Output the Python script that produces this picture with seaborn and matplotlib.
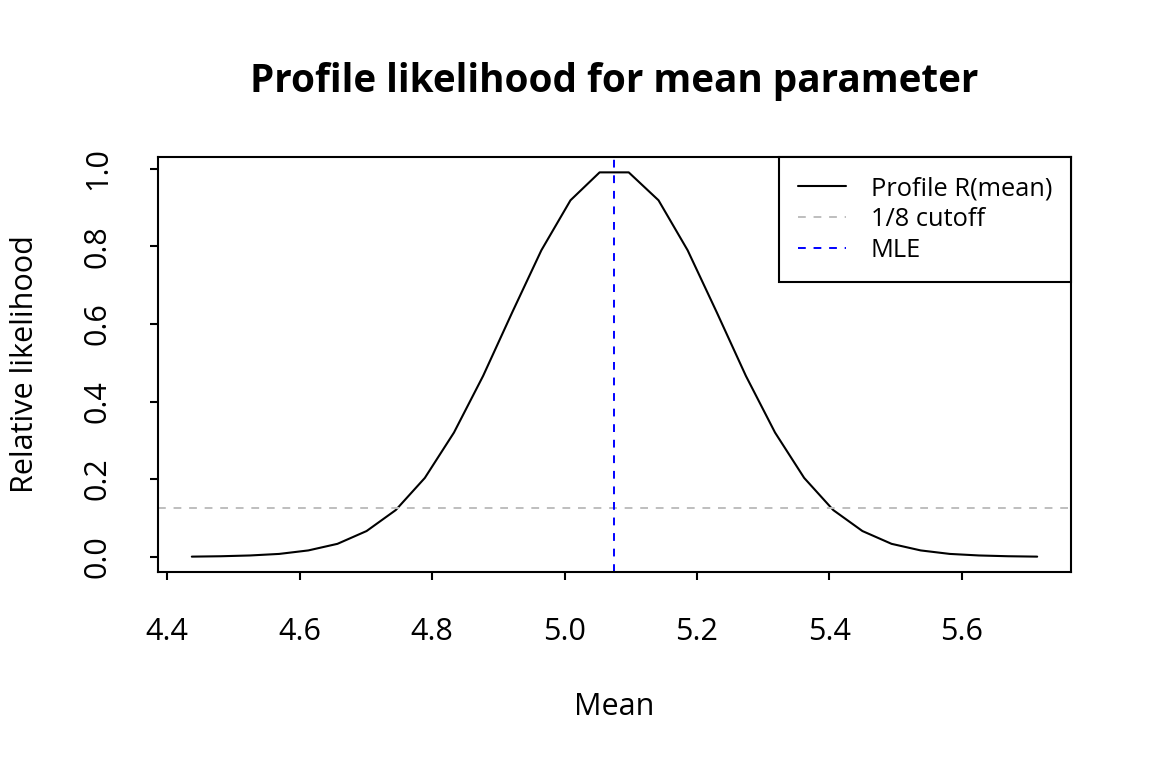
import numpy as np
import pandas as pd
import matplotlib
matplotlib.use("Agg")
import matplotlib.pyplot as plt
import seaborn as sns

# profile relative likelihood
mean_grid = [4.437, 4.481, 4.525, 4.569, 4.613, 4.657, 4.701, 4.745, 4.789, 4.833,
             4.877, 4.921, 4.965, 5.009, 5.053, 5.097, 5.142, 5.186, 5.230, 5.274,
             5.318, 5.362, 5.406, 5.450, 5.494, 5.538, 5.582, 5.626, 5.670, 5.714]
rel_lik = [0.000, 0.001, 0.003, 0.007, 0.016, 0.033, 0.066, 0.120, 0.203, 0.320,
           0.466, 0.630, 0.790, 0.919, 0.991, 0.991, 0.919, 0.790, 0.630, 0.466,
           0.320, 0.203, 0.120, 0.066, 0.033, 0.016, 0.007, 0.003, 0.001, 0.000]
cutoff = 1 / 8
mle = 5.075

x_ticks = [4.4, 4.6, 4.8, 5.0, 5.2, 5.4, 5.6]
y_ticks = [0.0, 0.2, 0.4, 0.6, 0.8, 1.0]

df = pd.DataFrame({"mean": mean_grid, "R": rel_lik})

sns.set_theme(style="white")
plt.rcParams["font.family"] = ["Open Sans", "DejaVu Sans"]
plt.rcParams["text.color"] = "black"
plt.rcParams["axes.labelcolor"] = "black"
plt.rcParams["xtick.color"] = "black"
plt.rcParams["ytick.color"] = "black"

W, H = 1152, 768
fig = plt.figure(figsize=(W / 100, H / 100), dpi=100)
ax = fig.add_axes([158 / W, 1 - 572 / H, (1071 - 158) / W, (572 - 157) / H])

sns.lineplot(data=df, x="mean", y="R", ax=ax, color="black", linewidth=1.5,
             label="Profile R(mean)")
ax.axhline(cutoff, color="#BEBEBE", linewidth=1.4, dashes=(4, 4), label="1/8 cutoff")
ax.axvline(mle, color="#0000FF", linewidth=1.4, dashes=(4, 4), label="MLE")

# R-style 4% padding
xr = max(mean_grid) - min(mean_grid)
ax.set_xlim(min(mean_grid) - 0.04 * xr, max(mean_grid) + 0.04 * xr)
yr = max(rel_lik) - min(rel_lik)
ax.set_ylim(min(rel_lik) - 0.04 * yr, max(rel_lik) + 0.04 * yr)

ax.set_xticks(x_ticks)
ax.set_xticklabels([f"{t:.1f}" for t in x_ticks])
ax.set_yticks(y_ticks)
ax.set_yticklabels([f"{t:.1f}" for t in y_ticks], rotation=90, va="center")
ax.tick_params(axis="both", which="major", direction="out", length=6, width=1.5,
               color="black", labelcolor="black", labelsize=22, pad=26.5,
               bottom=True, left=True)
for s in ax.spines.values():
    s.set_color("black")
    s.set_linewidth(1.5)

ax.set_xlabel("")
ax.set_ylabel("")
fig.text(614.5 / W, 1 - 92 / H, "Profile likelihood for mean parameter",
         ha="center", va="baseline", fontsize=27.8, fontweight="bold", color="black")
fig.text(614.5 / W, 1 - 707 / H, "Mean", ha="center", va="center", fontsize=22,
         color="black")
fig.text(25 / W, 1 - 364 / H, "Relative likelihood", ha="center", va="center",
         rotation=90, fontsize=22, color="black")

leg = ax.legend(loc="upper right", bbox_to_anchor=(1, 1), borderaxespad=0,
                fontsize=18.3, frameon=True, fancybox=False, framealpha=1,
                edgecolor="black", handlelength=1.9, handletextpad=0.95,
                borderpad=0.75, labelspacing=0.24)
leg.get_frame().set_linewidth(1.5)
for t in leg.get_texts():
    t.set_color("black")

fig.savefig("out.png", dpi=100, facecolor="white")
